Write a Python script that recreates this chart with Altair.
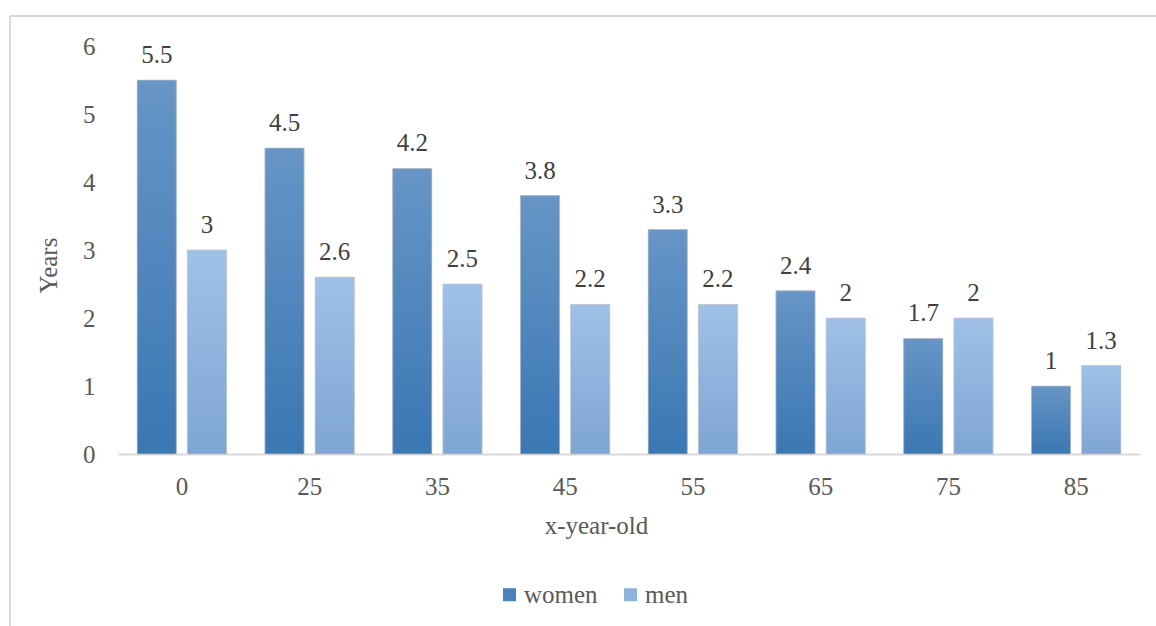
import altair as alt
import pandas as pd

# Remaining life expectancy gap by age, women vs men
ages = ["0", "25", "35", "45", "55", "65", "75", "85"]
women = [5.5, 4.5, 4.2, 3.8, 3.3, 2.4, 1.7, 1]
men = [3, 2.6, 2.5, 2.2, 2.2, 2, 2, 1.3]
series = ["women", "men"]
y_ticks = [0, 1, 2, 3, 4, 5, 6]

rows = []
for a, w, m in zip(ages, women, men):
    rows.append({"age": a, "sex": "women", "years": w, "label": f"{w:g}"})
    rows.append({"age": a, "sex": "men", "years": m, "label": f"{m:g}"})
df = pd.DataFrame(rows)

FONT = "Liberation Serif"
FS = 25
TEXT = "#595959"
LINE = "#d9d9d9"

x = alt.X(
    "age:N", sort=ages,
    scale=alt.Scale(paddingInner=0.3, paddingOuter=0.15),
    axis=alt.Axis(
        title="x-year-old", labelAngle=0, ticks=False,
        domainColor=LINE, domainWidth=2,
        labelFontSize=FS, labelColor=TEXT, labelPadding=20, labelFont=FONT,
        titleFontSize=FS, titleColor=TEXT, titleFontWeight="normal", titleFont=FONT,
        titleX=478, titleY=71, titleBaseline="middle", titleAlign="center",
    ),
)
xo = alt.XOffset("sex:N", sort=series, scale=alt.Scale(domain=series, paddingInner=0.22))
y = alt.Y(
    "years:Q",
    scale=alt.Scale(domain=[0, 6], nice=False),
    axis=alt.Axis(
        values=y_ticks, ticks=False, domain=False, grid=False,
        labelFontSize=FS, labelColor=TEXT, labelPadding=23, labelFont=FONT,
        title="Years", titleFontSize=FS, titleColor=TEXT, titleFontWeight="normal",
        titleFont=FONT, titleX=-70, titleY=219, titleAngle=270,
        titleBaseline="middle", titleAlign="center",
    ),
)


def grad(top, bottom):
    return alt.Gradient(
        gradient="linear",
        stops=[alt.GradientStop(color=top, offset=0),
               alt.GradientStop(color=bottom, offset=1)],
        x1=0, x2=0, y1=0, y2=1,
    )


base = alt.Chart(df).mark_bar().encode(
    x=x, xOffset=xo, y=y,
    color=alt.Color(
        "sex:N", sort=series,
        scale=alt.Scale(domain=series, range=["#4a82bc", "#8eb2de"]),
        legend=alt.Legend(
            title=None, orient="none", legendX=379, legendY=536,
            direction="horizontal", symbolType="square", symbolSize=169,
            symbolStrokeWidth=0, labelFontSize=FS, labelColor=TEXT,
            labelFont=FONT, columnPadding=20, labelOffset=2,
        ),
    ),
)

women_bars = alt.Chart(df).transform_filter(alt.datum.sex == "women").mark_bar(
    fill=grad("#6795c6", "#3a77b3"), stroke="#c9c9c9", strokeWidth=1, strokeOpacity=0.7
).encode(x=x, xOffset=xo, y=y)

men_bars = alt.Chart(df).transform_filter(alt.datum.sex == "men").mark_bar(
    fill=grad("#9fc1e8", "#7fa5d4"), stroke="#c9c9c9", strokeWidth=1, strokeOpacity=0.7
).encode(x=x, xOffset=xo, y=y)

labels = alt.Chart(df).mark_text(
    font=FONT, fontSize=FS, color="#404040", baseline="alphabetic", dy=-17
).encode(x=x, xOffset=xo, y=y, text="label:N")

# outer frame of the chart area (top and left edges)
frame_top = alt.Chart(alt.Data(values=[{}])).mark_rule(color=LINE, strokeWidth=2).encode(
    x=alt.value(-108), x2=alt.value(1040), y=alt.value(-30)
)
frame_left = alt.Chart(alt.Data(values=[{}])).mark_rule(color=LINE, strokeWidth=2).encode(
    x=alt.value(-108), y=alt.value(-30), y2=alt.value(600)
)

chart = (
    alt.layer(frame_top, frame_left, base, women_bars, men_bars, labels)
    .properties(
        width=1022, height=408,
        padding={"left": 118, "top": 46, "right": 16, "bottom": 172},
        autosize="none",
    )
    .configure(font=FONT, background="white")
    .configure_view(stroke=None)
)

chart.save("out.html", embed_options={"renderer": "svg", "actions": False})
